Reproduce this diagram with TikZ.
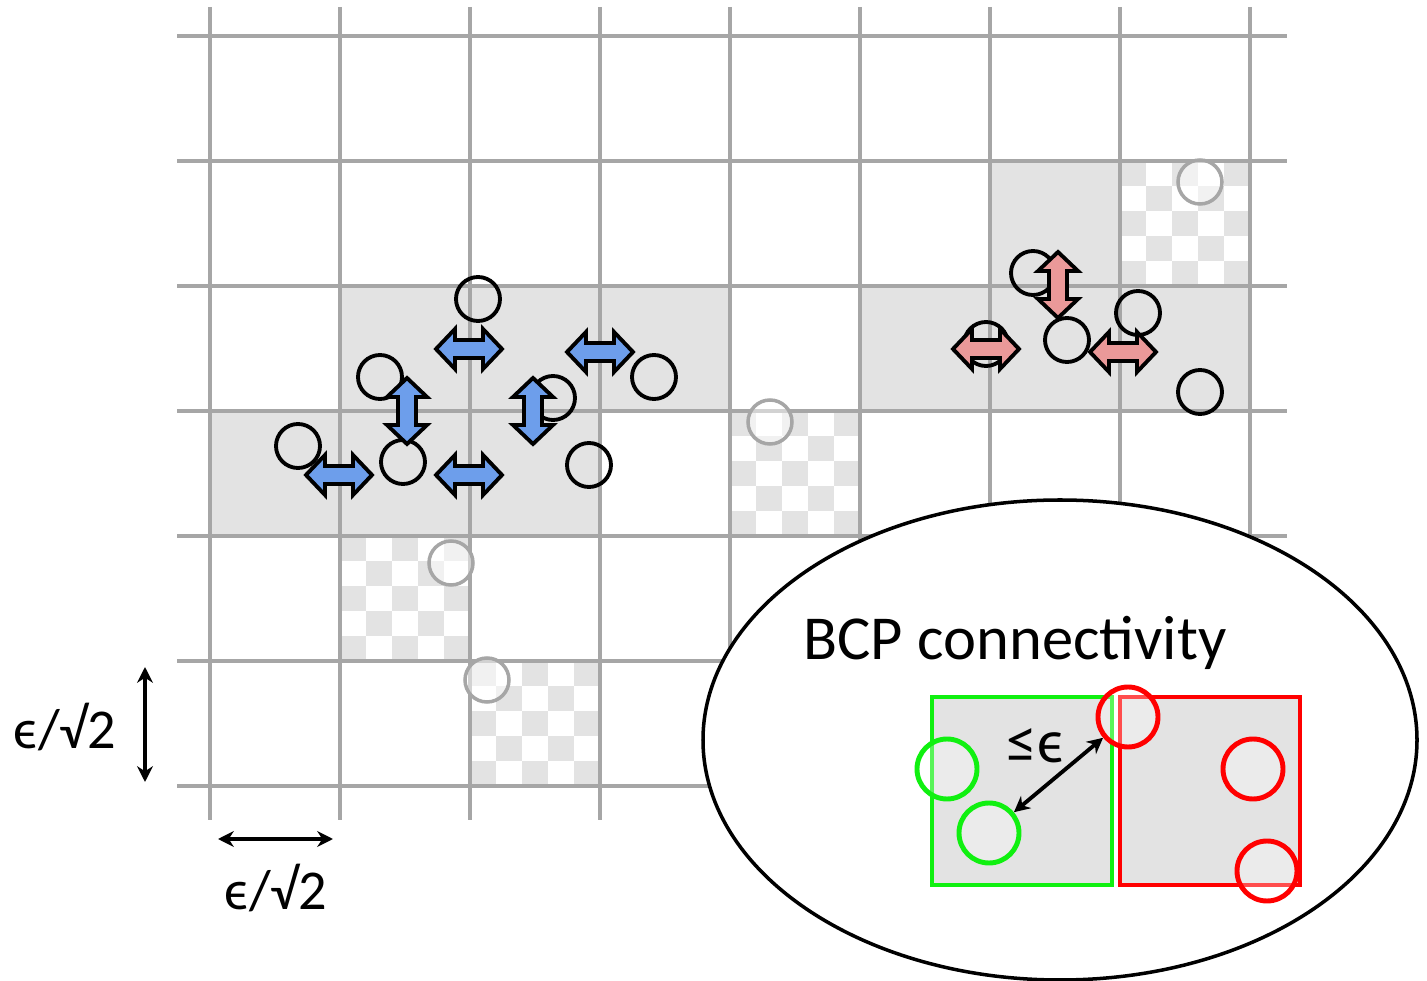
\documentclass[tikz,border=0pt]{standalone}
\usepackage{fontspec}
\setmainfont{Carlito}
\usetikzlibrary{arrows.meta}

\definecolor{gridgray}{HTML}{A6A6A6}
\definecolor{cellgray}{HTML}{E3E3E3}
\definecolor{arrblue}{HTML}{6D9EEB}
\definecolor{arrred}{HTML}{EA9999}
\definecolor{bcpgreen}{HTML}{10F010}
\definecolor{bcpred}{HTML}{FF0000}

\tikzset{
  grid/.style={draw=gridgray, line width=0.95pt},
  cell/.style={fill=cellgray, draw=gridgray, line width=0.95pt},
  pt/.style={circle, draw, line width=1.1pt, minimum size=4.4mm, inner sep=0pt},
  ghost/.style={circle, draw=gridgray, line width=1pt, fill=white, fill opacity=0.5,
    minimum size=4.4mm, inner sep=0pt},
  bcp/.style={circle, draw=#1, line width=1.4pt, fill=white, fill opacity=0.3,
    minimum size=6mm, inner sep=0pt},
  dimarr/.style={{Stealth[length=4.5pt,width=4.5pt]}-{Stealth[length=4.5pt,width=4.5pt]}, line width=1.1pt},
  pics/darr/.style={code={
    \draw[line width=1.1pt, fill=#1] (-33,0) -- (-14,20) -- (-14,9) -- (14,9) -- (14,20)
      -- (33,0) -- (14,-20) -- (14,-9) -- (-14,-9) -- (-14,-20) -- cycle;
  }}
}

\begin{document}
\begin{tikzpicture}[x=0.1mm, y=-0.1mm]
  \useasboundingbox (0,0) rectangle (1427,981);

  % grid
  \foreach \x in {210,340,...,1250}
    \draw[grid] (\x,7) -- (\x,820);
  \foreach \y in {36,161,...,786}
    \draw[grid] (177,\y) -- (1287,\y);

  % occupied cells
  \foreach \x/\y in {340/286,470/286,600/286,860/286,990/286,1120/286,990/161,210/411,340/411,470/411}
    \draw[cell] (\x,\y) rectangle ++(130,125);

  % checkered cells
  \foreach \x/\y in {1120/161,730/411,340/536,470/661}{
    \foreach \i in {0,...,4}{
      \foreach \j in {0,...,4}{
        \pgfmathtruncatemacro\k{mod(\i+\j,2)}
        \ifnum\k=0 \fill[cellgray] (\x+26*\i,\y+25*\j) rectangle ++(26,25); \fi
      }
    }
    \draw[grid] (\x,\y) rectangle ++(130,125);
  }

  % points
  \node[ghost] (g1) at (770,422) {};
  \node[ghost] (g2) at (451,563) {};
  \node[ghost] (g3) at (487,680) {};
  \node[ghost] (g4) at (1200,182) {};
  \foreach \x/\y [count=\i] in {478/299,380/377,654/377,553/398,298/446,403/462,589/465,
      1033/273,1067/340,1138/313,1200/392,986/344}
    \node[pt] (p\i) at (\x,\y) {};

  % merge arrows
  \pic at (469,349) {darr=arrblue};
  \pic at (600,352) {darr=arrblue};
  \pic at (339,475) {darr=arrblue};
  \pic at (469,475) {darr=arrblue};
  \pic[rotate=90] at (407,411) {darr=arrblue};
  \pic[rotate=90] at (533,411) {darr=arrblue};
  \pic at (986,349) {darr=arrred};
  \pic at (1123,352) {darr=arrred};
  \pic[rotate=90] at (1058,285) {darr=arrred};

  % inset
  \draw[fill=white, line width=1pt] (1060,740) ellipse [x radius=357, y radius=240];
  \node[anchor=base] (title) at (1015,659) {\fontsize{17.8}{20}\selectfont BCP connectivity};
  \draw[draw=bcpgreen, fill=cellgray, line width=1.4pt] (932,697) rectangle (1112,885);
  \draw[draw=bcpred, fill=cellgray, line width=1.4pt] (1120,697) rectangle (1300,885);
  \node[bcp=bcpgreen] (a1) at (947,769) {};
  \node[bcp=bcpgreen] (a2) at (989,833) {};
  \node[bcp=bcpred] (b1) at (1128,717) {};
  \node[bcp=bcpred] (b2) at (1253,769) {};
  \node[bcp=bcpred] (b3) at (1267,871) {};
  \draw[dimarr] (a2) -- (b1);
  \node (eps) at (1035,746) {\fontsize{17.5}{20}\selectfont ≤ϵ};

  % cell size
  \coordinate (v1) at (145,667);
  \coordinate (v2) at (145,782);
  \coordinate (h1) at (218,839);
  \coordinate (h2) at (333,839);
  \draw[dimarr] (v1) -- (v2);
  \draw[dimarr] (h1) -- (h2);
  \node (vlab) at (65,727) {\fontsize{16}{18}\selectfont ϵ/√2};
  \node (hlab) at (276,888) {\fontsize{16}{18}\selectfont ϵ/√2};
\end{tikzpicture}
\end{document}
